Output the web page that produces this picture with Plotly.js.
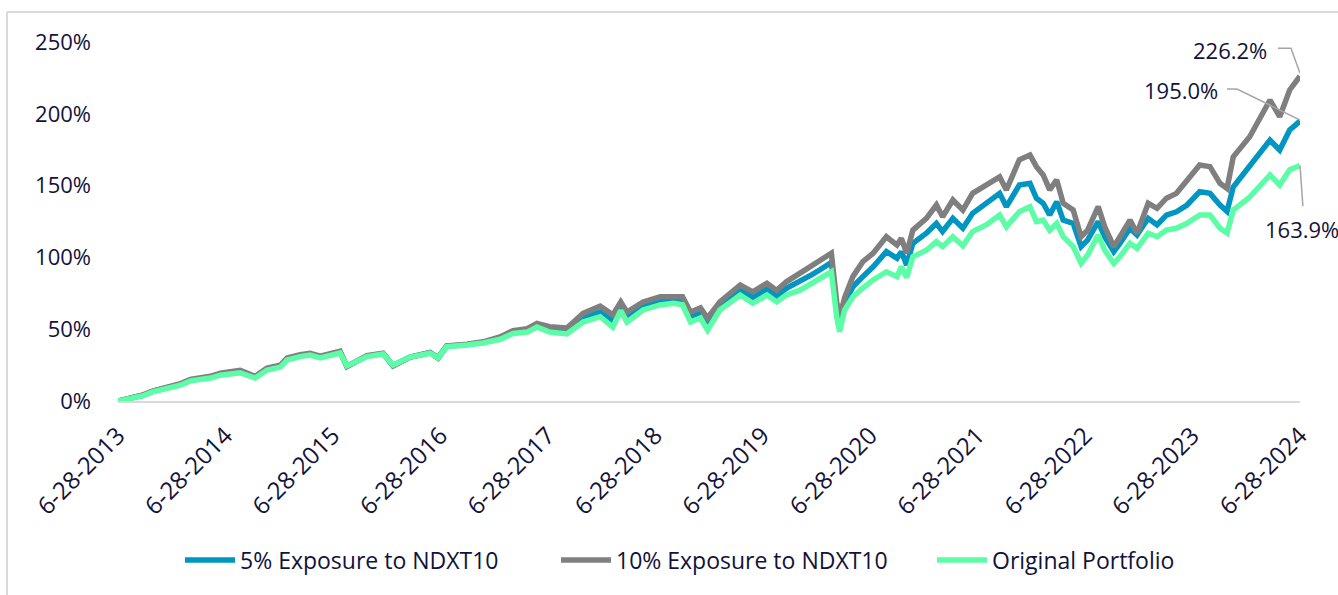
<!DOCTYPE html>
<html>
<head>
<meta charset="utf-8">
<script src="https://cdn.plot.ly/plotly-3.0.1.min.js"></script>
<style>
  html, body { margin: 0; padding: 0; background: #ffffff; }
  #chart { width: 1338px; height: 595px; }
</style>
</head>
<body>
<div id="chart"></div>
<script>
// ---- Data ----
const dates = [
  '2013-06-28','2013-08-18','2013-09-21','2013-10-26','2013-12-12','2014-01-26','2014-03-01','2014-05-08','2014-06-11','2014-08-17',
  '2014-10-07','2014-11-17','2015-01-01','2015-01-24','2015-03-09','2015-04-12','2015-05-16','2015-07-23','2015-08-15','2015-10-22',
  '2015-12-16','2016-01-19','2016-03-17','2016-05-24','2016-06-20','2016-07-19','2016-09-27','2016-11-20','2017-01-17','2017-03-02',
  '2017-04-19','2017-05-22','2017-07-04','2017-09-01','2017-10-26','2017-12-23','2018-02-04','2018-03-03','2018-03-24','2018-05-18',
  '2018-07-15','2018-08-30','2018-09-29','2018-10-26','2018-11-29','2018-12-23','2019-02-03','2019-04-13','2019-05-26','2019-07-13',
  '2019-08-15','2019-09-17','2019-11-01','2019-12-13','2020-01-08','2020-02-17','2020-03-06','2020-03-16','2020-04-02','2020-04-30',
  '2020-06-03','2020-07-08','2020-08-22','2020-09-27','2020-10-12','2020-10-30','2020-11-20','2021-01-05','2021-02-08','2021-03-01',
  '2021-04-05','2021-05-09','2021-06-11','2021-07-27','2021-09-11','2021-10-04','2021-11-17','2021-12-23','2022-01-14','2022-02-06',
  '2022-02-28','2022-03-24','2022-04-15','2022-05-19','2022-06-15','2022-07-07','2022-08-12','2022-09-03','2022-10-04','2022-10-25',
  '2022-11-28','2022-12-22','2023-01-29','2023-02-28','2023-04-01','2023-05-05','2023-06-10','2023-07-23','2023-08-27','2023-09-30',
  '2023-10-24','2023-11-14','2024-01-09','2024-02-13','2024-03-18','2024-04-20','2024-05-24','2024-06-28'
];

const exposure5 = [
  0,2.2,4,6.8,9.4,11.5,14.5,16.6,18.7,20.5,
  16.6,22.3,24.3,29.2,31.6,32.6,30.6,34,24.2,31.3,
  33,24.7,30.6,33.6,30,38.1,39.3,40.8,43.8,48,
  49.2,52.7,49.8,48.7,58,62,55.5,66,58.5,66.2,
  69.8,70.3,69.8,58.5,61.3,53.6,66.2,77.3,72,78,
  73,78.4,83,88,91.2,96.5,64,53,68,79.6,
  86.6,93.5,104,99.4,104,94.7,109.8,116.8,123.7,118,
  127.2,120.3,130.7,137.7,144.6,135.3,150.4,151.6,141.2,137.7,
  129.5,138.8,126,123.7,107.5,112,124.9,114.4,104,109.8,
  120.3,115.6,127.2,122.6,129.5,131.8,136.5,145.8,144.6,136.5,
  132,149,163,172,181.6,174.8,188.7,195.0
];

const exposure10 = [
  0,2.4,4.3,7.1,9.8,12,15,17.2,19.4,21.3,
  17.2,23,25,30,32.2,33.2,31.2,34.6,24,31.6,
  33.3,24.4,30.6,33.8,30,38.4,39.6,41.2,44.6,49,
  50.4,54,51.7,50.8,61,66,60,69,62,69,
  72.6,72.6,72.6,62,64.8,57.8,69,80.8,76,82,
  77,83,89,93.5,97,102.9,69,58,72,86.6,
  97,102.9,114.4,108.6,113.3,102.9,119,127.2,136.5,128.3,
  140,133,144.6,150,156,147,168,171.3,163.2,157.4,
  147,154,137.7,133,114.4,119,135.3,121.4,107.5,114.4,
  126,116.8,137.7,134.2,141.2,144.6,154,164.4,163.2,151.6,
  148,170,184,198,209.6,198,216.6,226.2
];

const original = [
  0,2,3.7,6.5,9,11,14,16,18,19.7,
  16,21.6,23.6,28.5,30.9,32,30,33.4,24.4,30.9,
  32.7,25,30.6,33.4,30,37.8,39,40.4,43,47,
  48,51.5,48,46.7,55,58.7,51.5,63,55,63.4,
  66.9,68,67,55,57.8,49.4,63.4,73.8,68,73.8,
  69,73.8,77,82,84.3,90,58.7,48.3,63.4,72.6,
  78.7,84.3,90,86.6,93.5,86,100.5,105,111,107.5,
  114.4,108,118,122.6,129.5,121.4,131.8,135.3,124.9,126,
  119,123.7,114.4,107.5,95.9,101.7,115.6,105,95.9,100.5,
  109.8,106.3,116.8,114.4,119,120.3,123.7,129.5,129.5,120.3,
  117,133,142,150,157.4,150.4,161,163.9
];

const seriesNames = ['5% Exposure to NDXT10', '10% Exposure to NDXT10', 'Original Portfolio'];
const tickDates = ['2013-06-28','2014-06-28','2015-06-28','2016-06-28','2017-06-28','2018-06-28',
                   '2019-06-28','2020-06-28','2021-06-28','2022-06-28','2023-06-28','2024-06-28'];
const tickLabels = ['6-28-2013','6-28-2014','6-28-2015','6-28-2016','6-28-2017','6-28-2018',
                    '6-28-2019','6-28-2020','6-28-2021','6-28-2022','6-28-2023','6-28-2024'];

// ---- Styles ----
const COLORS = ['#0096C1', '#7F7F7F', '#5CFDA6'];
const TEXT = '#12123A';
const FONT = 'Open Sans, Lato, sans-serif';

const allSeries = [exposure5, exposure10, original];
const traces = allSeries.map((vals, i) => ({
  type: 'scatter',
  mode: 'lines',
  x: dates,
  y: vals,
  name: seriesNames[i],
  line: { color: COLORS[i], width: 5.5 },
  hoverinfo: 'skip'
}));

const lastDate = dates[dates.length - 1];
function fmt(v) { return v.toFixed(1) + '%'; }

// end-value labels (offsets in pixels relative to the last point)
const labelCfg = [
  { vals: exposure5,  xshift: -80, yshift: 31,  xanchor: 'right', path: 'M 0 1 L -63 32 L -73 32' },
  { vals: exposure10, xshift: -31, yshift: 26,  xanchor: 'right', path: 'M 0 3 L -9 28 L -22 28' },
  { vals: original,   xshift: -37, yshift: -63, xanchor: 'left',  arrow: { ax: 3, ay: 42 } }
];

const annotations = [];
const shapes = [];
labelCfg.forEach(c => {
  const yv = c.vals[c.vals.length - 1];
  annotations.push({
    x: lastDate, y: yv, xref: 'x', yref: 'y',
    text: fmt(yv),
    showarrow: false, xanchor: c.xanchor, yanchor: 'middle',
    xshift: c.xshift, yshift: c.yshift,
    font: { family: FONT, size: 22, color: TEXT }
  });
  if (c.path) {
    shapes.push({
      type: 'path', xref: 'x', yref: 'y',
      xsizemode: 'pixel', ysizemode: 'pixel',
      xanchor: lastDate, yanchor: yv,
      path: c.path,
      line: { color: '#A6A6A6', width: 1.5 }
    });
  } else {
    annotations.push({
      x: lastDate, y: yv, xref: 'x', yref: 'y', text: '',
      showarrow: true, arrowhead: 0, arrowwidth: 1.5, arrowcolor: '#A6A6A6',
      ax: c.arrow.ax, ay: c.arrow.ay, standoff: 0, startstandoff: 0
    });
  }
});

// chart-area frame (left and top border visible in the reference)
const L = 118, R = 38, T = 42, B = 194, W = 1338, H = 595;
const pw = W - L - R, ph = H - T - B;
const fx = (7 - L) / pw, fy = (H - B - 12) / ph;
shapes.push({ type: 'line', xref: 'paper', yref: 'paper', x0: fx, x1: fx, y0: -1, y1: fy,
              line: { color: '#D9D9D9', width: 2 } });
shapes.push({ type: 'line', xref: 'paper', yref: 'paper', x0: fx, x1: 1.2, y0: fy, y1: fy,
              line: { color: '#D9D9D9', width: 2 } });

const layout = {
  width: W, height: H,
  margin: { l: L, r: R, t: T, b: B, autoexpand: false },
  paper_bgcolor: '#ffffff', plot_bgcolor: '#ffffff',
  font: { family: FONT, color: TEXT },
  showlegend: true,
  legend: {
    orientation: 'h', x: (180 - L) / pw, xanchor: 'left', y: -0.443, yanchor: 'middle',
    font: { family: FONT, size: 23, color: TEXT },
    traceorder: 'normal', itemwidth: 50,
    entrywidth: 311, entrywidthmode: 'pixels'
  },
  xaxis: {
    type: 'date',
    range: [dates[0], lastDate],
    tickmode: 'array', tickvals: tickDates, ticktext: tickLabels,
    tickangle: -45,
    showgrid: false, zeroline: false,
    showline: true, linecolor: '#D9D9D9', linewidth: 2,
    ticks: '', ticklabelstandoff: 9,
    tickfont: { family: FONT, size: 24, color: TEXT },
    fixedrange: true, automargin: false
  },
  yaxis: {
    range: [0, 250], tick0: 0, dtick: 50, ticksuffix: '%',
    showgrid: false, zeroline: false, showline: false,
    ticks: '', ticklabelstandoff: 26,
    tickfont: { family: FONT, size: 22, color: TEXT },
    fixedrange: true, automargin: false
  },
  annotations: annotations,
  shapes: shapes
};

Plotly.newPlot('chart', traces, layout, { displayModeBar: false, staticPlot: true });
</script>
</body>
</html>
